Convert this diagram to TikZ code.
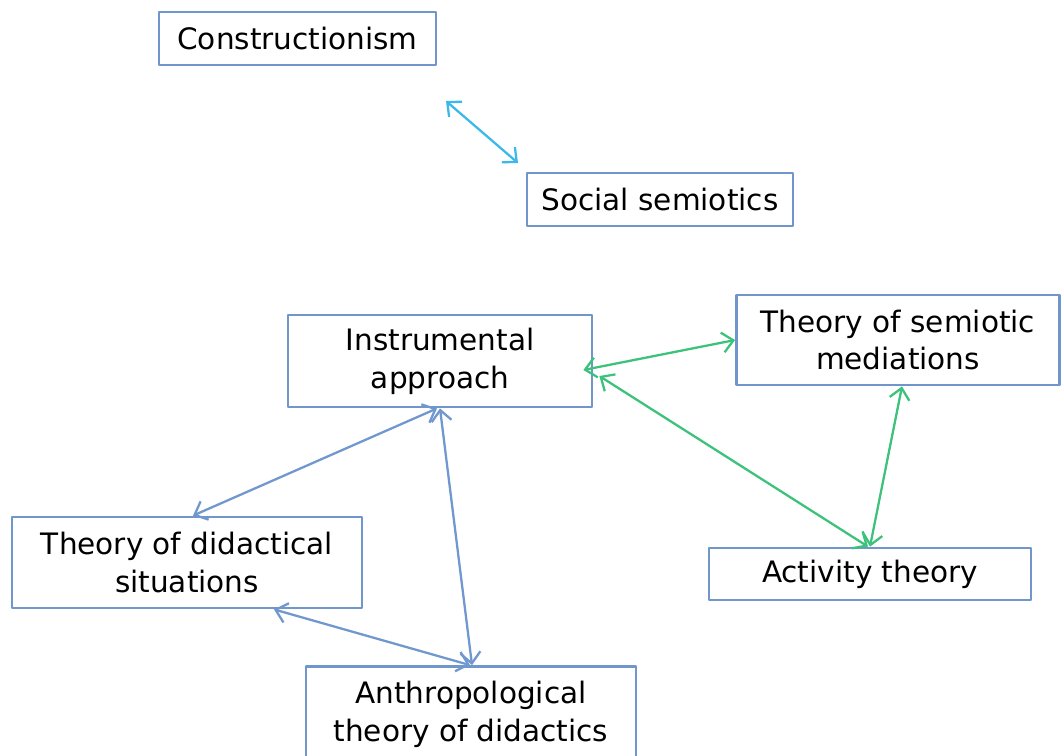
\documentclass[tikz,border=0pt]{standalone}
\usepackage{fontspec}
\setmainfont{DejaVu Sans}
\usetikzlibrary{arrows.meta}
\definecolor{boxblue}{HTML}{7096CB}
\definecolor{linkcyan}{HTML}{3DB8EA}
\definecolor{linkgreen}{HTML}{3DC27B}
\definecolor{linkblue}{HTML}{7098CE}
\begin{document}
\begin{tikzpicture}[x=0.02cm, y=-0.02cm, line cap=round, line join=round,
	>={Straight Barb[length=2.2mm,width=4mm]}, font=\fontsize{16.8}{21.6}\selectfont,
	theory/.style={draw=boxblue, line width=1.6pt, fill=white, align=center, inner sep=0pt},
	link/.style={<->, line width=1.3pt}]
	\useasboundingbox (0,0) rectangle (1061,755);
	% boxes
	\node[theory, minimum width=5.54cm, minimum height=1.06cm] (con) at (297.5,38.5) {Constructionism};
	\node[theory, minimum width=5.32cm, minimum height=1.06cm] (soc) at (660,199.5) {Social semiotics};
	\node[theory, minimum width=6.08cm, minimum height=1.84cm] (ins) at (440,361) {Instrumental\\approach};
	\node[theory, minimum width=6.46cm, minimum height=1.80cm] (tsm) at (898,340) {Theory of semiotic\\mediations};
	\node[theory, minimum width=7.00cm, minimum height=1.82cm] (tds) at (187,562.5) {Theory of didactical\\situations};
	\node[theory, minimum width=6.44cm, minimum height=1.04cm] (act) at (870,574) {Activity theory};
	\node[theory, minimum width=6.60cm, minimum height=1.90cm] (atd) at (471,714) {Anthropological\\theory of didactics};
	% links
	\coordinate (c1) at (446,101);
	\coordinate (c2) at (518,163);
	\draw[link, linkcyan] (c1) -- (c2);
	\draw[link, linkgreen] ([xshift=-0.2cm,yshift=-0.18cm]ins.east) -- ([yshift=0cm]tsm.west);
	\draw[link, linkgreen] ([xshift=0.12cm,yshift=-0.30cm]ins.east) -- ([xshift=-0.04cm]act.north);
	\draw[link, linkgreen] (act.north) -- ([xshift=0.08cm]tsm.south);
	\draw[link, linkblue] ([xshift=-0.06cm]ins.south) -- ([xshift=0.12cm]tds.north);
	\draw[link, linkblue] (ins.south) -- ([xshift=0.02cm]atd.north);
	\draw[link, linkblue] ([xshift=1.74cm]tds.south) -- ([xshift=-0.02cm]atd.north);
\end{tikzpicture}
\end{document}
